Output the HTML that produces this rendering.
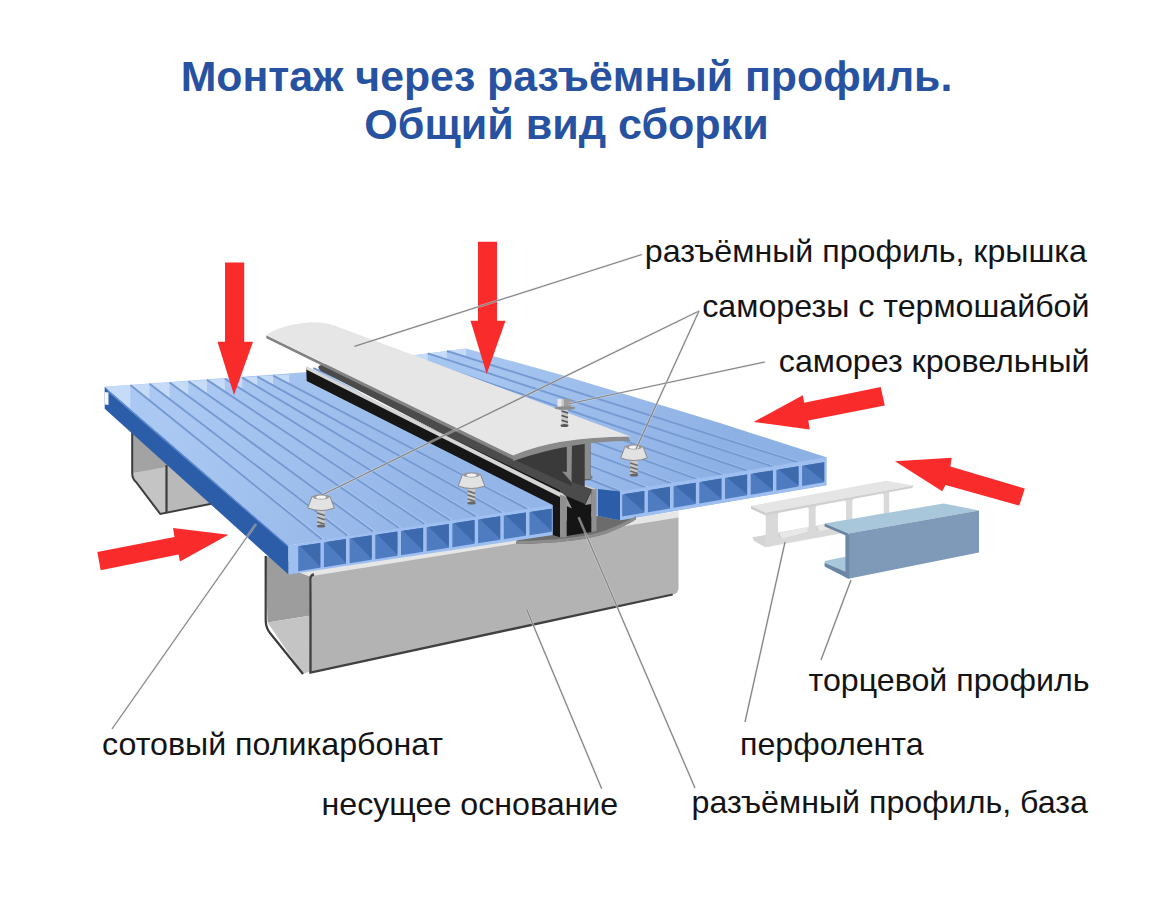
<!DOCTYPE html>
<html><head><meta charset="utf-8"><style>
html,body{margin:0;padding:0;background:#fff;width:1171px;height:900px;overflow:hidden}
svg{display:block}
text{font-family:"Liberation Sans",sans-serif}
</style></head><body>
<svg width="1171" height="900" viewBox="0 0 1171 900">
<defs>
<linearGradient id="gL" gradientUnits="userSpaceOnUse" x1="200" y1="380" x2="420" y2="530"><stop offset="0" stop-color="#aac8f2"/><stop offset="1" stop-color="#93b5e7"/></linearGradient>
<linearGradient id="gR" gradientUnits="userSpaceOnUse" x1="500" y1="360" x2="700" y2="480"><stop offset="0" stop-color="#a6c5f0"/><stop offset="1" stop-color="#8eb1e5"/></linearGradient>
</defs>
<rect width="1171" height="900" fill="#fff"/>
<polygon points="132.0,428.0 215.0,440.0 215.0,503.0 160.0,514.0 136.0,481.0 132.0,474.0" fill="#b9b9b9" />
<polygon points="132.0,428.0 166.5,436.0 166.5,467.0 133.0,473.0" fill="#a3a3a3" />
<polygon points="133.0,473.0 166.5,467.0 166.5,512.0 160.0,514.0 136.0,481.0" fill="#c4c4c4" />
<path d="M132.2,428 L132.2,474 Q132.5,479 136,482 L160.3,514 L215,503" fill="none" stroke="#3d3d3d" stroke-width="2"/>
<line x1="166.5" y1="465.0" x2="166.5" y2="512.0" stroke="#3d3d3d" stroke-width="2.2" />
<polygon points="265.7,556.0 311.0,566.0 311.0,615.4 267.5,622.5" fill="#9d9d9d" />
<polygon points="267.5,622.5 311.0,615.4 311.0,671.0 303.0,674.0" fill="#c4c4c4" />
<path d="M265.7,556 L265.7,621 Q266,628 270,633 L303,674" fill="none" stroke="#3a3a3a" stroke-width="2.2"/>
<polygon points="291.0,569.5 678.5,511.0 678.5,519.0 311.0,577.0" fill="#e6e6e6" />
<path d="M312,576 L678.5,517.5 L678.5,588 Q678.5,593.5 672.7,594.5 L309,673 Z" fill="#b3b3b3"/>
<path d="M310.5,579 Q310.5,575 314,574.5 M310.5,577 L310.5,672.5 L672.7,594.5" fill="none" stroke="#404040" stroke-width="2.3"/>
<path d="M516,544 Q575,543 605,534 Q626,526 636,519 L636,510 L520,528 Z" fill="#6c6c6c"/>
<polygon points="104.7,386.7 288.5,545.6 288.5,574.5 104.7,408.7" fill="#2c5da8" />
<polygon points="104.7,386.7 288.5,545.6 288.5,547.5 108.0,392.0" fill="#5d8ad0" />
<polygon points="104.7,392.0 108.5,392.5 108.5,405.0 104.7,404.5" fill="#f4f7fc" />
<polygon points="104.7,386.7 322.0,371.0 562.0,506.0 288.5,545.6" fill="url(#gL)" />
<polygon points="105.1,386.7 130.3,385.0 130.3,408.5" fill="#c6dbf8" />
<polygon points="130.3,385.0 149.5,383.7 149.5,400.5" fill="#c6dbf8" />
<polygon points="149.5,383.7 169.6,382.4 169.6,399.1" fill="#c6dbf8" />
<polygon points="169.6,382.4 188.4,381.2 188.4,396.2" fill="#c6dbf8" />
<polygon points="188.4,381.2 207.0,379.9 207.0,394.1" fill="#c6dbf8" />
<polygon points="207.0,379.9 224.9,378.8 224.9,391.8" fill="#c6dbf8" />
<polygon points="224.9,378.8 242.3,377.6 242.3,389.7" fill="#c6dbf8" />
<polygon points="242.3,377.6 257.3,376.6 257.3,386.5" fill="#c6dbf8" />
<polygon points="257.3,376.6 273.2,375.6 273.2,385.5" fill="#c6dbf8" />
<polygon points="273.2,375.6 289.2,374.5 289.2,384.0" fill="#c6dbf8" />
<line x1="132.0" y1="386.3" x2="323.4" y2="538.9" stroke="#b0ccf3" stroke-width="1.3" />
<line x1="130.3" y1="385.0" x2="321.7" y2="539.2" stroke="#7599d2" stroke-width="1.9" />
<line x1="151.2" y1="385.0" x2="349.1" y2="535.1" stroke="#b0ccf3" stroke-width="1.3" />
<line x1="149.5" y1="383.7" x2="347.4" y2="535.4" stroke="#7599d2" stroke-width="1.9" />
<line x1="171.3" y1="383.7" x2="374.8" y2="531.3" stroke="#b0ccf3" stroke-width="1.3" />
<line x1="169.6" y1="382.4" x2="373.1" y2="531.6" stroke="#7599d2" stroke-width="1.9" />
<line x1="190.1" y1="382.5" x2="400.5" y2="527.5" stroke="#b0ccf3" stroke-width="1.3" />
<line x1="188.4" y1="381.2" x2="398.8" y2="527.8" stroke="#7599d2" stroke-width="1.9" />
<line x1="208.7" y1="381.2" x2="426.2" y2="523.7" stroke="#b0ccf3" stroke-width="1.3" />
<line x1="207.0" y1="379.9" x2="424.5" y2="524.0" stroke="#7599d2" stroke-width="1.9" />
<line x1="226.6" y1="380.1" x2="451.9" y2="519.9" stroke="#b0ccf3" stroke-width="1.3" />
<line x1="224.9" y1="378.8" x2="450.2" y2="520.2" stroke="#7599d2" stroke-width="1.9" />
<line x1="244.0" y1="378.9" x2="477.6" y2="516.1" stroke="#b0ccf3" stroke-width="1.3" />
<line x1="242.3" y1="377.6" x2="475.9" y2="516.4" stroke="#7599d2" stroke-width="1.9" />
<line x1="259.0" y1="377.9" x2="503.3" y2="512.3" stroke="#b0ccf3" stroke-width="1.3" />
<line x1="257.3" y1="376.6" x2="501.6" y2="512.6" stroke="#7599d2" stroke-width="1.9" />
<line x1="274.9" y1="376.9" x2="529.0" y2="508.5" stroke="#b0ccf3" stroke-width="1.3" />
<line x1="273.2" y1="375.6" x2="527.3" y2="508.8" stroke="#7599d2" stroke-width="1.9" />
<polygon points="288.5,545.6 553.0,505.0 553.0,535.0 288.5,574.5" fill="#9ebff0" />
<polygon points="298.2,546.2 320.3,542.9 320.3,567.7 298.2,571.2" fill="#4f7cc0" />
<polygon points="300.2,545.9 320.3,542.9 320.3,566.7" fill="#3d69ad" />
<polygon points="323.9,542.4 346.0,539.1 346.0,563.7 323.9,567.2" fill="#4f7cc0" />
<polygon points="325.9,542.1 346.0,539.1 346.0,562.7" fill="#3d69ad" />
<polygon points="349.6,538.6 371.7,535.3 371.7,559.7 349.6,563.2" fill="#4f7cc0" />
<polygon points="351.6,538.3 371.7,535.3 371.7,558.7" fill="#3d69ad" />
<polygon points="375.3,534.8 397.4,531.5 397.4,555.7 375.3,559.2" fill="#4f7cc0" />
<polygon points="377.3,534.5 397.4,531.5 397.4,554.7" fill="#3d69ad" />
<polygon points="401.0,531.0 423.1,527.7 423.1,551.7 401.0,555.2" fill="#4f7cc0" />
<polygon points="403.0,530.7 423.1,527.7 423.1,550.7" fill="#3d69ad" />
<polygon points="426.7,527.2 448.8,523.9 448.8,547.7 426.7,551.2" fill="#4f7cc0" />
<polygon points="428.7,526.9 448.8,523.9 448.8,546.7" fill="#3d69ad" />
<polygon points="452.4,523.4 474.5,520.1 474.5,543.7 452.4,547.2" fill="#4f7cc0" />
<polygon points="454.4,523.1 474.5,520.1 474.5,542.7" fill="#3d69ad" />
<polygon points="478.1,519.6 500.2,516.3 500.2,539.7 478.1,543.2" fill="#4f7cc0" />
<polygon points="480.1,519.3 500.2,516.3 500.2,538.7" fill="#3d69ad" />
<polygon points="503.8,515.8 525.9,512.5 525.9,535.7 503.8,539.2" fill="#4f7cc0" />
<polygon points="505.8,515.5 525.9,512.5 525.9,534.7" fill="#3d69ad" />
<polygon points="529.5,512.0 551.6,508.7 551.6,531.7 529.5,535.2" fill="#4f7cc0" />
<polygon points="531.5,511.7 551.6,508.7 551.6,530.7" fill="#3d69ad" />
<polygon points="330.0,366.0 466.0,348.5 560.0,374.5 720.0,423.0 826.5,457.3 826.5,485.3 620.0,520.2 598.0,516.0" fill="url(#gR)" />
<polygon points="408.7,355.9 427.8,353.4 427.8,362.3" fill="#c6dbf8" />
<polygon points="427.8,353.4 446.9,351.0 446.9,359.7" fill="#c6dbf8" />
<polygon points="446.9,351.0 466.0,348.5 466.0,357.0" fill="#c6dbf8" />
<line x1="314.9" y1="369.5" x2="621.7" y2="491.2" stroke="#b0ccf3" stroke-width="1.3" />
<line x1="313.2" y1="368.2" x2="620.0" y2="491.5" stroke="#7599d2" stroke-width="1.9" />
<line x1="334.0" y1="367.0" x2="647.4" y2="487.1" stroke="#b0ccf3" stroke-width="1.3" />
<line x1="332.3" y1="365.7" x2="645.7" y2="487.4" stroke="#7599d2" stroke-width="1.9" />
<line x1="353.1" y1="364.5" x2="673.1" y2="483.0" stroke="#b0ccf3" stroke-width="1.3" />
<line x1="351.4" y1="363.2" x2="671.4" y2="483.3" stroke="#7599d2" stroke-width="1.9" />
<line x1="372.2" y1="362.1" x2="698.8" y2="478.9" stroke="#b0ccf3" stroke-width="1.3" />
<line x1="370.5" y1="360.8" x2="697.1" y2="479.2" stroke="#7599d2" stroke-width="1.9" />
<line x1="391.3" y1="359.6" x2="724.5" y2="474.8" stroke="#b0ccf3" stroke-width="1.3" />
<line x1="389.6" y1="358.3" x2="722.8" y2="475.1" stroke="#7599d2" stroke-width="1.9" />
<line x1="410.4" y1="357.2" x2="750.2" y2="470.7" stroke="#b0ccf3" stroke-width="1.3" />
<line x1="408.7" y1="355.9" x2="748.5" y2="471.0" stroke="#7599d2" stroke-width="1.9" />
<line x1="429.5" y1="354.7" x2="775.9" y2="466.6" stroke="#b0ccf3" stroke-width="1.3" />
<line x1="427.8" y1="353.4" x2="774.2" y2="466.9" stroke="#7599d2" stroke-width="1.9" />
<line x1="448.6" y1="352.3" x2="801.6" y2="462.5" stroke="#b0ccf3" stroke-width="1.3" />
<line x1="446.9" y1="351.0" x2="799.9" y2="462.8" stroke="#7599d2" stroke-width="1.9" />
<polygon points="598.0,489.0 620.0,491.5 620.0,520.2 598.0,516.0" fill="#2c5da8" />
<polygon points="620.0,491.5 826.5,457.3 825.7,485.3 620.0,520.2" fill="#9ebff0" />
<polygon points="622.2,494.4 644.3,490.9 644.3,512.8 622.2,516.5" fill="#4f7cc0" />
<polygon points="624.2,494.1 644.3,490.9 644.3,511.8" fill="#3d69ad" />
<polygon points="647.9,490.4 670.0,486.8 670.0,508.4 647.9,512.2" fill="#4f7cc0" />
<polygon points="649.9,490.0 670.0,486.8 670.0,507.4" fill="#3d69ad" />
<polygon points="673.6,486.3 695.7,482.7 695.7,504.1 673.6,507.8" fill="#4f7cc0" />
<polygon points="675.6,485.9 695.7,482.7 695.7,503.1" fill="#3d69ad" />
<polygon points="699.3,482.2 721.4,478.6 721.4,499.7 699.3,503.4" fill="#4f7cc0" />
<polygon points="701.3,481.8 721.4,478.6 721.4,498.7" fill="#3d69ad" />
<polygon points="725.0,478.1 747.1,474.5 747.1,495.3 725.0,499.1" fill="#4f7cc0" />
<polygon points="727.0,477.7 747.1,474.5 747.1,494.3" fill="#3d69ad" />
<polygon points="750.7,474.0 772.8,470.4 772.8,491.0 750.7,494.7" fill="#4f7cc0" />
<polygon points="752.7,473.6 772.8,470.4 772.8,490.0" fill="#3d69ad" />
<polygon points="776.4,469.9 798.5,466.3 798.5,486.6 776.4,490.4" fill="#4f7cc0" />
<polygon points="778.4,469.5 798.5,466.3 798.5,485.6" fill="#3d69ad" />
<polygon points="802.1,465.8 824.2,462.2 824.2,482.3 802.1,486.0" fill="#4f7cc0" />
<polygon points="804.1,465.4 824.2,462.2 824.2,481.3" fill="#3d69ad" />
<path d="M319,365.8 Q317,368 321,371 L566.5,498 L585,505 L595,489.5 L571.5,481 L333,361 Z" fill="#4b4b4b"/>
<polygon points="306.2,368.0 560.0,490.3 560.0,537.3 552.8,535.0 552.8,505.0 306.7,380.9" fill="#161616" />
<polygon points="306.2,366.0 562.5,493.5 566.5,497.0 560.0,497.0 306.2,369.5" fill="#d6d6d6" />
<line x1="571.5" y1="481.0" x2="595.0" y2="489.5" stroke="#cfcfcf" stroke-width="1.6" />
<path d="M513,461 Q550,444 590.4,440 L590.4,480 L571.5,481 L571.5,486 L513,459 Z" fill="#3a3a3a"/>
<polygon points="566.5,496.0 585.0,504.0 591.5,490.0 591.5,532.0 566.5,536.0" fill="#151515" />
<polygon points="560.0,494.5 566.5,497.0 566.5,537.3 560.0,537.3" fill="#909090" />
<polygon points="566.5,497.5 572.0,508.5 566.5,506.0" fill="#9a9a9a" />
<polygon points="591.5,490.0 596.5,489.0 596.5,531.0 591.5,532.0" fill="#909090" />
<polygon points="591.5,491.0 585.0,505.0 591.5,504.0" fill="#9a9a9a" />
<polygon points="572.0,441.0 584.7,440.2 584.7,487.0 572.0,482.5" fill="#3b3b3b" />
<polygon points="566.8,441.5 572.0,441.0 571.5,482.0 566.8,476.0" fill="#8c8c8c" />
<polygon points="562.0,471.5 566.8,472.0 571.5,482.0" fill="#8c8c8c" />
<polygon points="584.7,440.2 590.4,440.0 590.4,479.5 584.7,479.5" fill="#8c8c8c" />
<polygon points="590.4,475.0 593.0,477.0 590.4,480.0" fill="#777" />
<path d="M516,541 Q575,540 604,531 Q625,523 636,516 L636,519.5 Q626,526 605,534 Q575,543 516,544 Z" fill="#8c8c8c"/>
<path d="M266.3,335.2 L513,455.6 L513,459.5 L266.3,338.2 Z" fill="#838383"/>
<path d="M513,455 Q555,437 628,436.5 L630.5,441 Q570,441 513,461 Z" fill="#8a8a8a"/>
<path d="M266.3,335.2 Q280,325 311,322.3 Q325,322 337,326.4 L630.5,436.5 L628,436.5 Q555,437 513,455.6 Z" fill="#e6e6e6"/>
<rect x="317.2" y="510.0" width="7.6" height="17.0" rx="2" fill="#c9c9c9"/><path d="M317.2,513.0 L324.8,515.5" stroke="#6a6a6a" stroke-width="1.6"/><path d="M317.2,517.3 L324.8,519.8" stroke="#6a6a6a" stroke-width="1.6"/><path d="M317.2,521.7 L324.8,524.2" stroke="#6a6a6a" stroke-width="1.6"/><ellipse cx="321" cy="526.0" rx="4.2" ry="1.6" fill="#666"/><path d="M312.0,496.5 L330.0,496.5 L334.3,508.0 Q321,513.0 307.7,508.0 Z" fill="#e2e2e2" stroke="#8a8a8a" stroke-width="1"/><ellipse cx="321" cy="496.8" rx="8.6" ry="2.6" fill="#9a9a9a"/><ellipse cx="321" cy="497.2" rx="5" ry="1.6" fill="#f5f5f5"/>
<rect x="467.7" y="488.0" width="7.6" height="16.0" rx="2" fill="#c9c9c9"/><path d="M467.7,491.0 L475.3,493.5" stroke="#6a6a6a" stroke-width="1.6"/><path d="M467.7,495.0 L475.3,497.5" stroke="#6a6a6a" stroke-width="1.6"/><path d="M467.7,499.0 L475.3,501.5" stroke="#6a6a6a" stroke-width="1.6"/><ellipse cx="471.5" cy="503.0" rx="4.2" ry="1.6" fill="#666"/><path d="M462.5,474.5 L480.5,474.5 L484.8,486.0 Q471.5,491.0 458.2,486.0 Z" fill="#e2e2e2" stroke="#8a8a8a" stroke-width="1"/><ellipse cx="471.5" cy="474.8" rx="8.6" ry="2.6" fill="#9a9a9a"/><ellipse cx="471.5" cy="475.2" rx="5" ry="1.6" fill="#f5f5f5"/>
<rect x="630.2" y="460.0" width="7.6" height="16.0" rx="2" fill="#c9c9c9"/><path d="M630.2,463.0 L637.8,465.5" stroke="#6a6a6a" stroke-width="1.6"/><path d="M630.2,467.0 L637.8,469.5" stroke="#6a6a6a" stroke-width="1.6"/><path d="M630.2,471.0 L637.8,473.5" stroke="#6a6a6a" stroke-width="1.6"/><ellipse cx="634" cy="475.0" rx="4.2" ry="1.6" fill="#666"/><path d="M625.0,446.5 L643.0,446.5 L647.3,458.0 Q634,463.0 620.7,458.0 Z" fill="#e2e2e2" stroke="#8a8a8a" stroke-width="1"/><ellipse cx="634" cy="446.8" rx="8.6" ry="2.6" fill="#9a9a9a"/><ellipse cx="634" cy="447.2" rx="5" ry="1.6" fill="#f5f5f5"/>
<rect x="561.5" y="408" width="6.5" height="18" rx="1.5" fill="#c9c9c9"/>
<path d="M561.5,411.0 L568,413.0" stroke="#555" stroke-width="1.6"/>
<path d="M561.5,415.6 L568,417.6" stroke="#555" stroke-width="1.6"/>
<path d="M561.5,420.2 L568,422.2" stroke="#555" stroke-width="1.6"/>
<ellipse cx="564.5" cy="425.5" rx="4" ry="1.5" fill="#555"/>
<rect x="557.5" y="399" width="13.5" height="8.5" fill="#c4c4c4"/><rect x="557.5" y="399" width="4" height="8.5" fill="#e8e8e8"/><rect x="564" y="399" width="7" height="8.5" fill="#9d9d9d"/>
<ellipse cx="565" cy="408" rx="10.5" ry="1.8" fill="#8c8c8c"/>
<polygon points="752.6,537.3 831.0,523.0 831.0,530.0 765.7,547.3 754.0,541.0" fill="#d4d4d4" />
<path fill-rule="evenodd" fill="#d9d9d9" d="M765.7,512.7 L889.2,490.5 L889.2,524.6 L765.7,547.3 Z M782.0,510.8 L804.7,506.7 Q808.7,506.0 808.7,510.0 L808.7,529.4 Q808.7,533.4 804.7,534.1 L782.0,538.3 Q778.0,539.0 778.0,535.0 L778.0,515.5 Q778.0,511.5 782.0,510.8 Z M819.6,504.0 L842.1,499.9 Q846.1,499.2 846.1,503.2 L846.1,522.5 Q846.1,526.5 842.1,527.3 L819.6,531.4 Q815.6,532.1 815.6,528.1 L815.6,508.7 Q815.6,504.7 819.6,504.0 Z M856.3,497.4 L879.8,493.2 Q883.8,492.4 883.8,496.4 L883.8,515.6 Q883.8,519.6 879.8,520.4 L856.3,524.7 Q852.3,525.4 852.3,521.4 L852.3,502.1 Q852.3,498.1 856.3,497.4 Z "/>
<polygon points="779.5,533.0 807.7,526.9 807.7,531.9 782.0,538.5" fill="#e8e8e8" />
<polygon points="817.1,526.1 845.1,520.0 845.1,525.0 819.6,531.6" fill="#e8e8e8" />
<polygon points="853.8,519.4 882.8,513.1 882.8,518.1 856.3,524.9" fill="#e8e8e8" />
<polygon points="751.0,505.8 886.0,480.8 913.8,485.4 765.7,512.7" fill="#e5e5e5" />
<polygon points="751.0,505.8 765.7,512.7 765.7,515.5 751.0,508.8" fill="#cdcdcd" />
<polygon points="765.7,512.7 913.8,485.4 912.0,488.0 765.7,515.3" fill="#d0d0d0" />
<polygon points="824.6,523.4 943.7,503.5 979.0,510.4 848.4,533.4" fill="#a9c7db" />
<polygon points="824.6,523.4 848.4,533.4 848.4,536.5 824.6,526.5" fill="#6885a3" />
<polygon points="824.6,561.1 845.4,556.8 848.4,573.0 848.4,578.8 824.6,565.0" fill="#a9c7db" />
<polygon points="824.6,563.0 848.4,573.0 848.4,578.8 824.6,566.5" fill="#6885a3" />
<polygon points="848.4,533.4 979.0,510.4 979.0,552.6 848.4,578.8" fill="#7e9ab8" />
<polygon points="845.4,534.0 849.2,534.5 849.2,578.8 845.4,577.0" fill="#6b88a6" />
<polygon points="225.0,262.5 244.2,262.5 244.2,341.7 253.0,341.7 234.0,395.0 217.5,341.7 225.0,341.7" fill="#fa2b2b" />
<polygon points="478.0,241.7 497.0,241.7 497.0,320.8 505.5,320.8 486.7,374.0 470.5,320.8 478.0,320.8" fill="#fa2b2b" />
<polygon points="753.7,421.9 802.8,395.3 804.2,402.8 880.7,387.0 884.8,405.5 808.3,420.5 809.7,429.4" fill="#fa2b2b" />
<polygon points="895.0,461.2 951.7,457.8 950.4,466.6 1024.8,488.5 1019.3,505.6 945.6,485.0 942.2,491.2" fill="#fa2b2b" />
<polygon points="97.3,551.9 174.5,536.9 173.1,528.0 228.4,534.8 180.0,561.4 178.6,554.6 100.7,570.3" fill="#fa2b2b" />
<line x1="642.0" y1="254.5" x2="354.4" y2="346.4" stroke="#e8e8e8" stroke-width="2.6" stroke-opacity="0.45"/>
<line x1="642.0" y1="254.5" x2="354.4" y2="346.4" stroke="#858585" stroke-width="1.25" />
<line x1="699.0" y1="311.0" x2="322.0" y2="495.0" stroke="#e8e8e8" stroke-width="2.6" stroke-opacity="0.45"/>
<line x1="699.0" y1="311.0" x2="322.0" y2="495.0" stroke="#858585" stroke-width="1.25" />
<line x1="699.0" y1="311.0" x2="636.0" y2="449.0" stroke="#e8e8e8" stroke-width="2.6" stroke-opacity="0.45"/>
<line x1="699.0" y1="311.0" x2="636.0" y2="449.0" stroke="#858585" stroke-width="1.25" />
<line x1="765.0" y1="362.0" x2="568.0" y2="404.0" stroke="#e8e8e8" stroke-width="2.6" stroke-opacity="0.45"/>
<line x1="765.0" y1="362.0" x2="568.0" y2="404.0" stroke="#858585" stroke-width="1.25" />
<line x1="256.0" y1="524.0" x2="112.0" y2="729.0" stroke="#e8e8e8" stroke-width="2.6" stroke-opacity="0.45"/>
<line x1="256.0" y1="524.0" x2="112.0" y2="729.0" stroke="#858585" stroke-width="1.25" />
<line x1="526.7" y1="609.5" x2="601.7" y2="788.7" stroke="#e8e8e8" stroke-width="2.6" stroke-opacity="0.45"/>
<line x1="526.7" y1="609.5" x2="601.7" y2="788.7" stroke="#858585" stroke-width="1.25" />
<line x1="578.6" y1="517.3" x2="695.0" y2="788.0" stroke="#e8e8e8" stroke-width="2.6" stroke-opacity="0.45"/>
<line x1="578.6" y1="517.3" x2="695.0" y2="788.0" stroke="#858585" stroke-width="1.25" />
<line x1="785.0" y1="542.0" x2="745.0" y2="722.0" stroke="#e8e8e8" stroke-width="2.6" stroke-opacity="0.45"/>
<line x1="785.0" y1="542.0" x2="745.0" y2="722.0" stroke="#858585" stroke-width="1.25" />
<line x1="851.0" y1="580.0" x2="821.0" y2="660.0" stroke="#e8e8e8" stroke-width="2.6" stroke-opacity="0.45"/>
<line x1="851.0" y1="580.0" x2="821.0" y2="660.0" stroke="#858585" stroke-width="1.25" />

<text x="566.5" y="91" font-size="42.8" font-weight="bold" fill="#2652a1" text-anchor="middle">Монтаж через разъёмный профиль.</text>
<text x="566.5" y="138.5" font-size="43.1" font-weight="bold" fill="#2652a1" text-anchor="middle">Общий вид сборки</text>
<g font-size="32.2" fill="#141414">
<text x="1087" y="261.8" text-anchor="end">разъёмный профиль, крышка</text>
<text x="1089.5" y="316.8" text-anchor="end">саморезы с термошайбой</text>
<text x="1089.5" y="371.5" text-anchor="end">саморез кровельный</text>
<text x="1089.5" y="690.5" text-anchor="end">торцевой профиль</text>
<text x="740" y="754.5">перфолента</text>
<text x="102" y="755.2">сотовый поликарбонат</text>
<text x="321.5" y="814.5">несущее основание</text>
<text x="1088" y="812.5" text-anchor="end">разъёмный профиль, база</text>
</g>

</svg>
</body></html>
